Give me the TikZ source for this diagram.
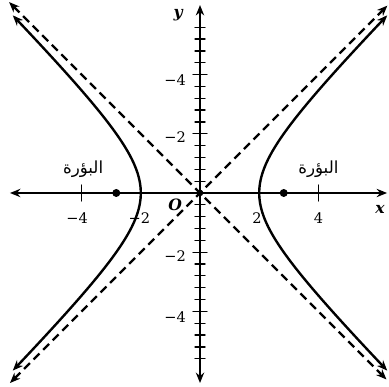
\documentclass[tikz,border=0pt]{standalone}
\usepackage{fontspec}
\setmainfont{DejaVu Serif}
\usetikzlibrary{arrows.meta}
\newfontfamily\arabicfont[Script=Arabic]{DejaVu Sans}
\TeXXeTstate=1
\begin{document}
\begin{tikzpicture}[line join=round, line cap=round, line width=1.6pt]
	\tikzset{twoway/.style={{Stealth[length=10pt,width=8pt]}-{Stealth[length=10pt,width=8pt]}},
		ticklbl/.style={font=\fontsize{14}{16}\selectfont, inner sep=0pt},
		axlbl/.style={font=\fontsize{15}{17}\selectfont\bfseries\itshape, inner sep=0pt},
		focuslbl/.style={font=\arabicfont\fontsize{16}{18}\selectfont, inner sep=0pt},
		asym/.style={dash pattern=on 8pt off 5pt, line width=2.2pt, line cap=butt},
		branch/.style={line width=2.3pt}}
	\def\xmin{-6.42}
	\def\xmax{6.32}
	\def\ymin{-6.42}
	\def\ymax{6.35}
	\useasboundingbox (-6.757,-6.554) rectangle (6.385,6.52);
	\draw[twoway] (\xmin,0)--(\xmax,0);
	\draw[twoway] (0,\ymin)--(0,\ymax);
	\node[axlbl] (xl) at (6.08,-0.57) {x};
	\node[axlbl] (yl) at (-0.74,6.0) {y};
	% ticks
	\foreach \i in {1,...,14}{
		\pgfmathsetmacro\tk{0.4*\i}
		\draw[line width=1.2pt] (-0.17,\tk)--(0.17,\tk) (-0.17,-\tk)--(0.17,-\tk);
	}
	\foreach \tk in {2,4}
		\draw[line width=1.2pt] (-0.24,\tk)--(0.24,\tk) (-0.24,-\tk)--(0.24,-\tk);
	\foreach \tk in {-4,4}
		\draw[line width=1.2pt] (\tk,-0.27)--(\tk,0.27);
	% labels
	\node[ticklbl] (xm4) at (-4.15,-0.85) {−4};
	\node[ticklbl] (xm2) at (-2.05,-0.85) {−2};
	\node[ticklbl] (xp2) at (1.93,-0.85) {2};
	\node[ticklbl] (xp4) at (4,-0.85) {4};
	\node[ticklbl,anchor=east] (yp4) at (-0.45,3.82) {−4};
	\node[ticklbl,anchor=east] (yp2) at (-0.45,1.88) {−2};
	\node[ticklbl,anchor=east] (ym2) at (-0.45,-2.12) {−2};
	\node[ticklbl,anchor=east] (ym4) at (-0.45,-4.18) {−4};
	\node[axlbl] (O) at (-0.84,-0.4) {O};
	\node[focuslbl] (fl) at (-3.95,0.8) {\beginR البؤرة\endR};
	\node[focuslbl] (fr) at (4,0.8) {\beginR البؤرة\endR};
	% asymptotes
	\draw[asym,twoway] (-6.42,-6.42)--(6.33,6.33);
	\draw[asym,twoway] (-6.45,6.45)--(6.3,-6.3);
	% branches
	\draw[branch,twoway] plot[smooth,samples=100,domain=-6:6] ({sqrt(4+\x*\x)},\x);
	\draw[branch,twoway] plot[smooth,samples=100,domain=-6:6] ({-sqrt(4+\x*\x)},\x);
	% foci
	\pgfmathsetmacro\fc{sqrt(8)}
	\fill (-\fc,0) circle (0.135);
	\fill (\fc,0) circle (0.135);
	\fill (0,0) circle (0.11);
\end{tikzpicture}
\end{document}
